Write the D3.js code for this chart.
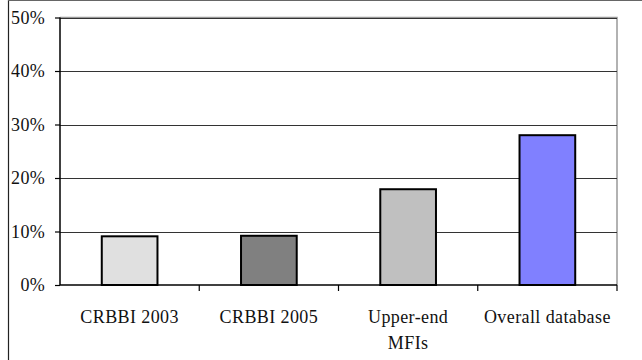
<!DOCTYPE html>
<html>
<head>
<meta charset="utf-8">
<script src="https://cdn.jsdelivr.net/npm/d3@7/dist/d3.min.js"></script>
<style>
  html, body { margin: 0; padding: 0; background: #fff; }
  svg { display: block; }
  text { font-family: "Liberation Serif", "Times New Roman", serif; fill: #111; }
</style>
</head>
<body>
<svg id="chart" width="642" height="360"></svg>
<script>
// Share of each group, as fractions
const categories = [["CRBBI 2003"], ["CRBBI 2005"], ["Upper-end", "MFIs"], ["Overall database"]];
const values = [0.091, 0.092, 0.179, 0.280];
const fills = ["#e0e0e0", "#808080", "#c0c0c0", "#8080ff"];
const yTicks = [0, 0.1, 0.2, 0.3, 0.4, 0.5];

const svg = d3.select("#chart");
const plotLeft = 60, plotRight = 617, plotTop = 17.5, plotBottom = 285;

const keys = categories.map(c => c.join(" "));
const x = d3.scaleBand().domain(keys).range([plotLeft, plotRight]).paddingInner(0.6).paddingOuter(0.3);
const y = d3.scaleLinear().domain([0, 0.5]).range([plotBottom, plotTop]);

// outer frame
svg.append("line").attr("x1", 8.5).attr("x2", 8.5).attr("y1", 0).attr("y2", 360)
  .attr("stroke", "#222").attr("stroke-width", 1.2);
svg.append("line").attr("x1", 8).attr("x2", 642).attr("y1", 0.5).attr("y2", 0.5)
  .attr("stroke", "#666").attr("stroke-width", 1.2);

// plot border (top & right)
svg.append("path")
  .attr("d", `M${plotLeft},${plotTop}H${plotRight}V${plotBottom}`)
  .attr("fill", "none").attr("stroke", "#999").attr("stroke-width", 1.5);

// gridlines
svg.append("g").selectAll("line").data(yTicks.filter(t => t > 0)).join("line")
  .attr("x1", plotLeft).attr("x2", plotRight)
  .attr("y1", d => Math.round(y(d)) + 0.5).attr("y2", d => Math.round(y(d)) + 0.5)
  .attr("stroke", "#333").attr("stroke-width", 1);

// y axis
const yAxis = svg.append("g").attr("transform", `translate(${plotLeft},0)`)
  .call(d3.axisLeft(y).tickValues(yTicks).tickFormat(d3.format(".0%")).tickSize(5).tickPadding(10));
yAxis.select(".domain").attr("stroke", "#000").attr("stroke-width", 1.5).attr("d", `M0,${plotTop}V${plotBottom}`);
yAxis.selectAll(".tick line").attr("stroke", "#000").attr("stroke-width", 1.2);
yAxis.selectAll(".tick text").attr("font-size", 18).attr("font-family", "Liberation Serif")
  .attr("fill", "#111").attr("letter-spacing", 0.3);

// bars
svg.append("g").selectAll("rect").data(values).join("rect")
  .attr("x", (d, i) => x(keys[i]))
  .attr("y", d => y(d))
  .attr("width", x.bandwidth())
  .attr("height", d => y(0) - y(d))
  .attr("fill", (d, i) => fills[i])
  .attr("stroke", "#000").attr("stroke-width", 2);

// x axis line with ticks at category boundaries
svg.append("line").attr("x1", plotLeft).attr("x2", plotRight).attr("y1", plotBottom).attr("y2", plotBottom)
  .attr("stroke", "#000").attr("stroke-width", 1.5);
const bounds = d3.range(keys.length + 1).map(i => plotLeft + i * x.step());
svg.append("g").selectAll("line").data(bounds.slice(1)).join("line")
  .attr("x1", d => d).attr("x2", d => d).attr("y1", plotBottom).attr("y2", plotBottom + 6)
  .attr("stroke", "#000").attr("stroke-width", 1.2);

// category labels
const lab = svg.append("g").selectAll("text").data(categories).join("text")
  .attr("x", (d, i) => x(keys[i]) + x.bandwidth() / 2)
  .attr("y", 322.5)
  .attr("text-anchor", "middle")
  .attr("font-size", 18)
  .attr("letter-spacing", 0.4);
lab.selectAll("tspan").data(d => d).join("tspan")
  .attr("x", function () { return d3.select(this.parentNode).attr("x"); })
  .attr("dy", (d, i) => i === 0 ? 0 : 26.5)
  .text(d => d);
</script>
</body>
</html>
